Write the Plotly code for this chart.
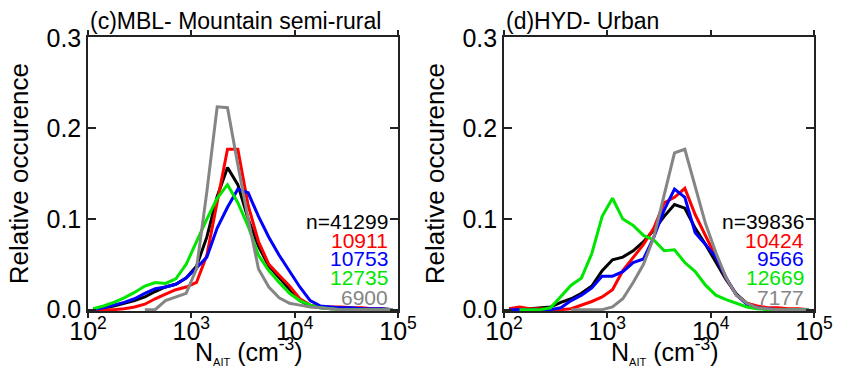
import numpy as np
import plotly.graph_objects as go

# bin centres, log10(N_AIT)
log_centres = [2.05, 2.15, 2.25, 2.35, 2.45, 2.55, 2.65, 2.75, 2.85, 2.95,
               3.05, 3.15, 3.25, 3.35, 3.45, 3.55, 3.65, 3.75, 3.85, 3.95,
               4.05, 4.15, 4.25, 4.35, 4.45, 4.55, 4.65, 4.75, 4.85, 4.95]

# (c) MBL - Mountain semi-rural
black_c = [0.0, 0.002, 0.004, 0.007, 0.010, 0.014, 0.020, 0.025, 0.028, 0.035,
           0.048, 0.080, 0.125, 0.157, 0.138, 0.100, 0.070, 0.048, 0.035, 0.022,
           0.010, 0.004, 0.002, 0.001, 0.001, 0, 0, 0, 0, 0]
red_c = [0, 0, 0, 0.001, 0.003, 0.006, 0.012, 0.017, 0.022, 0.025,
         0.030, 0.060, 0.120, 0.177, 0.177, 0.115, 0.075, 0.050, 0.038, 0.026,
         0.012, 0.005, 0.003, 0.003, 0.003, 0.002, 0.002, 0.001, 0.001, 0]
blue_c = [0, 0.002, 0.005, 0.008, 0.012, 0.018, 0.023, 0.025, 0.028, 0.035,
          0.046, 0.058, 0.090, 0.113, 0.133, 0.129, 0.103, 0.080, 0.060, 0.042,
          0.025, 0.010, 0.004, 0.003, 0.002, 0.002, 0.001, 0.001, 0.001, 0]
green_c = [0.001, 0.004, 0.008, 0.013, 0.019, 0.026, 0.030, 0.029, 0.034, 0.050,
           0.075, 0.100, 0.123, 0.138, 0.118, 0.092, 0.060, 0.043, 0.030, 0.018,
           0.010, 0.005, 0.002, 0.001, 0, 0, 0, 0, 0, 0]
gray_c = [None, None, None, None, None, 0, 0, 0.010, 0.014, 0.018,
          0.045, 0.130, 0.224, 0.223, 0.160, 0.100, 0.045, 0.025, 0.013, 0.007,
          0.005, 0.003, 0.002, 0.001, 0, 0, 0, 0, 0, 0]
counts_c = ["n=41299", "10911", "10753", "12735", "6900"]

# (d) HYD - Urban
black_d = [0, 0, 0.001, 0.002, 0.003, 0.008, 0.012, 0.018, 0.026, 0.043,
           0.055, 0.058, 0.065, 0.075, 0.088, 0.103, 0.116, 0.112, 0.090, 0.072,
           0.052, 0.033, 0.017, 0.007, 0.003, 0.001, 0, 0, 0, 0]
red_d = [0.001, 0.003, 0.001, 0.001, 0, 0, 0.001, 0.005, 0.009, 0.014,
         0.022, 0.043, 0.058, 0.072, 0.090, 0.118, 0.124, 0.134, 0.105, 0.082,
         0.058, 0.035, 0.016, 0.007, 0.004, 0.002, 0.002, 0.001, 0.001, 0]
blue_d = [0, 0, 0, 0, 0, 0.002, 0.010, 0.016, 0.024, 0.037,
          0.037, 0.042, 0.052, 0.056, 0.080, 0.110, 0.133, 0.124, 0.085, 0.072,
          0.058, 0.035, 0.016, 0.006, 0.002, 0.001, 0, 0, 0, 0]
green_d = [None, 0, 0, 0, 0.002, 0.014, 0.027, 0.035, 0.062, 0.103,
           0.123, 0.100, 0.093, 0.082, 0.077, 0.065, 0.066, 0.052, 0.042, 0.027,
           0.016, 0.011, 0.007, 0.003, 0.001, 0, 0, 0, 0, 0]
gray_d = [None, None, None, None, None, None, 0, 0, 0, 0,
          0.003, 0.012, 0.030, 0.050, 0.080, 0.125, 0.173, 0.177, 0.135, 0.095,
          0.063, 0.035, 0.016, 0.007, 0.002, 0.001, 0, 0, 0, 0]
counts_d = ["n=39836", "10424", "9566", "12669", "7177"]

titles = ["(c)MBL- Mountain semi-rural", "(d)HYD- Urban"]
colors = ["#000000", "#ff0000", "#0000ff", "#00e600", "#858585"]

x_vals = np.power(10.0, np.array(log_centres))
FONT = "Liberation Sans, Arial, Helvetica, sans-serif"

fig = go.Figure()
panels = [([black_c, red_c, blue_c, green_c, gray_c], "x", "y"),
          ([black_d, red_d, blue_d, green_d, gray_d], "x2", "y2")]
for series, xa, ya in panels:
    for vals, col in zip(series, colors):
        fig.add_trace(go.Scatter(x=x_vals, y=vals, mode="lines", xaxis=xa, yaxis=ya,
                                 line=dict(color=col, width=3), showlegend=False,
                                 connectgaps=False))

xaxis_common = dict(type="log", range=[2, 5], tickvals=[1e2, 1e3, 1e4, 1e5],
                    ticktext=["10<sup>2</sup>", "10<sup>3</sup>", "10<sup>4</sup>", "10<sup>5</sup>"],
                    ticks="outside", ticklen=5, tickwidth=1.5, tickcolor="#222",
                    showline=True, linecolor="#222", linewidth=1.5, mirror="ticks",
                    showgrid=False, zeroline=False, ticklabelstandoff=-8,
                    tickfont=dict(family=FONT, size=25, color="black"))
yaxis_common = dict(range=[-0.0015, 0.301], tickvals=[0, 0.1, 0.2, 0.3],
                    ticktext=["0.0", "0.1", "0.2", "0.3"],
                    ticks="inside", ticklen=8, tickwidth=1.5, tickcolor="#222",
                    showline=True, linecolor="#222", linewidth=1.5, mirror="ticks",
                    showgrid=False, zeroline=False,
                    tickfont=dict(family=FONT, size=25, color="black"))

fig.update_layout(
    width=845, height=367,
    margin=dict(l=88, r=24, t=37, b=56, pad=0),
    plot_bgcolor="white", paper_bgcolor="white",
    xaxis=dict(domain=[0, 0.427], anchor="y", **xaxis_common),
    yaxis=dict(domain=[0, 1], anchor="x", **yaxis_common),
    xaxis2=dict(domain=[0.573, 1], anchor="y2", **xaxis_common),
    yaxis2=dict(domain=[0, 1], anchor="x2", **yaxis_common),
)

annotations = []
xtitle = "N<sub><span style='font-size:11px'>AIT</span></sub> (cm<sup>-3</sup>)"
ycentres = [0.325, 0.259, 0.193, 0.124, 0.051]
for i, (xa, ya, counts) in enumerate([("x", "y", counts_c), ("x2", "y2", counts_d)]):
    annotations.append(dict(text=titles[i], xref=f"{xa} domain", yref=f"{ya} domain",
                            x=0, y=1, xanchor="left", yanchor="bottom", showarrow=False,
                            yshift=1, font=dict(family=FONT, size=23, color="black")))
    annotations.append(dict(text="Relative occurence", xref=f"{xa} domain", yref=f"{ya} domain",
                            x=-0.222, y=0.5, textangle=-90, xanchor="center", yanchor="middle",
                            showarrow=False, font=dict(family=FONT, size=26, color="black")))
    annotations.append(dict(text=xtitle, xref=f"{xa} domain", yref=f"{ya} domain",
                            x=0.52, y=-0.146, xanchor="center", yanchor="middle",
                            showarrow=False, font=dict(family=FONT, size=25, color="black")))
    for txt, yc, col in zip(counts, ycentres, colors):
        annotations.append(dict(text=txt, xref=f"{xa} domain", yref=f"{ya} domain",
                                x=0.973, y=yc, xanchor="right", yanchor="middle",
                                showarrow=False, font=dict(family=FONT, size=21, color=col)))
fig.update_layout(annotations=annotations)

fig.write_html("out.html")
